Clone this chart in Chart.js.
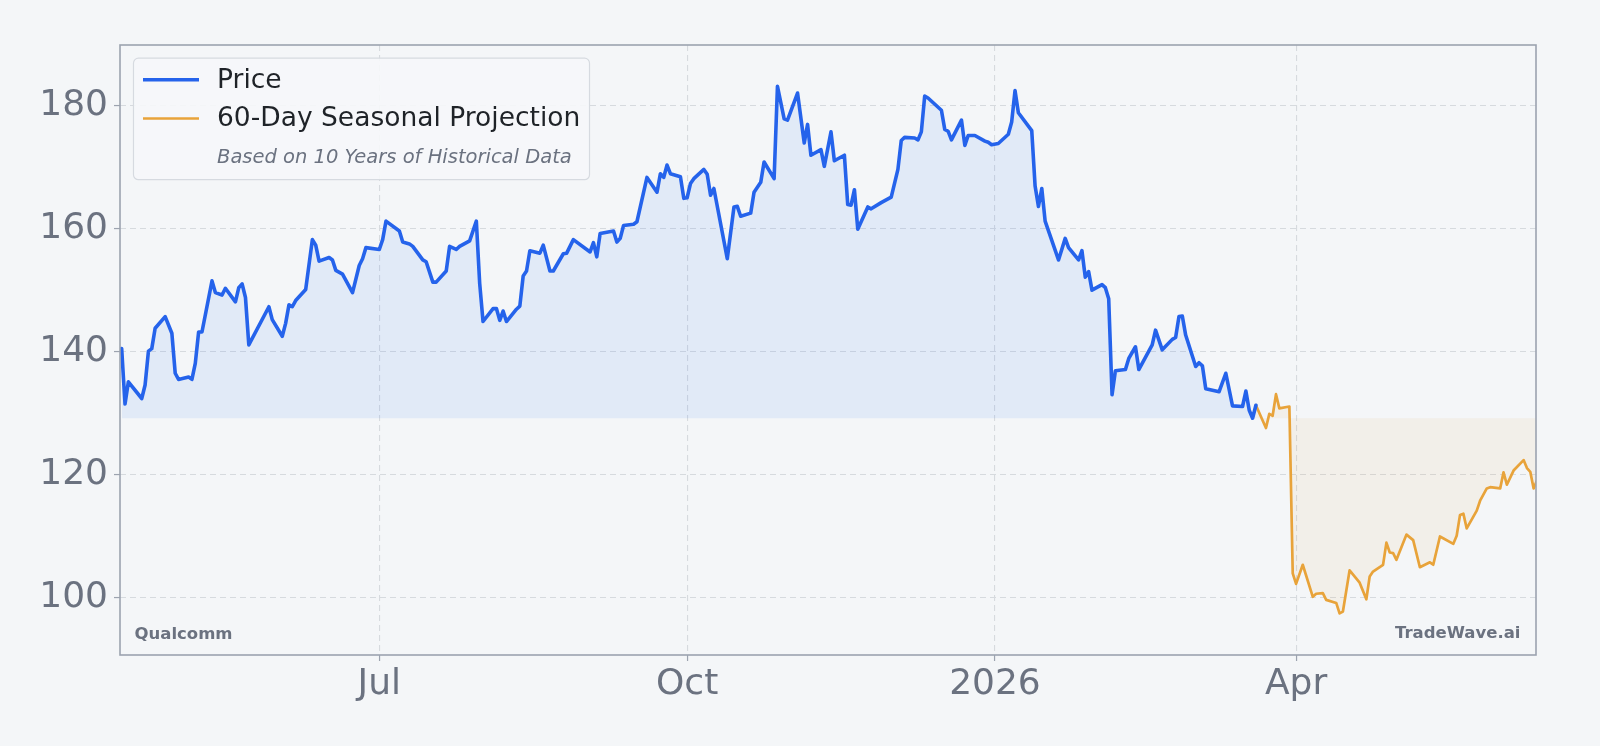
<!DOCTYPE html>
<html lang="en">
<head>
  <meta charset="UTF-8" />
  <title>Qualcomm - 60-Day Seasonal Projection</title>
  <script src="https://cdn.jsdelivr.net/npm/chart.js"></script>
  <style>
    html, body {
      margin: 0;
      padding: 0;
      background: #f4f6f8;
    }
    canvas {
      display: block;
    }
  </style>
</head>
<body>
  <canvas id="priceChart" width="1600" height="746"></canvas>

  <script>
    // daily closes (turning points)
    const priceDates = [
      '2025-04-15','2025-04-16','2025-04-17','2025-04-21','2025-04-22','2025-04-23','2025-04-24','2025-04-25','2025-04-28','2025-04-30',
      '2025-05-01','2025-05-02','2025-05-05','2025-05-06','2025-05-07','2025-05-08','2025-05-09','2025-05-12','2025-05-13','2025-05-15',
      '2025-05-16','2025-05-19','2025-05-20','2025-05-21','2025-05-22','2025-05-23','2025-05-29','2025-05-30','2025-06-02','2025-06-03',
      '2025-06-04','2025-06-05','2025-06-06','2025-06-09','2025-06-11','2025-06-12','2025-06-13','2025-06-16','2025-06-17','2025-06-18',
      '2025-06-20','2025-06-23','2025-06-25','2025-06-26','2025-06-27','2025-07-01','2025-07-02','2025-07-03','2025-07-07','2025-07-08',
      '2025-07-10','2025-07-11','2025-07-14','2025-07-15','2025-07-17','2025-07-18','2025-07-21','2025-07-22','2025-07-24','2025-07-25',
      '2025-07-28','2025-07-30','2025-07-31','2025-08-01','2025-08-04','2025-08-05','2025-08-06','2025-08-07','2025-08-08','2025-08-11',
      '2025-08-12','2025-08-13','2025-08-14','2025-08-15','2025-08-18','2025-08-19','2025-08-21','2025-08-22','2025-08-25','2025-08-26',
      '2025-08-28','2025-09-02','2025-09-03','2025-09-04','2025-09-05','2025-09-09','2025-09-10','2025-09-11','2025-09-12','2025-09-15',
      '2025-09-16','2025-09-19','2025-09-22','2025-09-23','2025-09-24','2025-09-25','2025-09-26','2025-09-29','2025-09-30','2025-10-01',
      '2025-10-02','2025-10-03','2025-10-06','2025-10-07','2025-10-08','2025-10-09','2025-10-13','2025-10-15','2025-10-16','2025-10-17',
      '2025-10-20','2025-10-21','2025-10-23','2025-10-24','2025-10-27','2025-10-28','2025-10-30','2025-10-31','2025-11-03','2025-11-05',
      '2025-11-06','2025-11-07','2025-11-10','2025-11-11','2025-11-13','2025-11-14','2025-11-17','2025-11-18','2025-11-19','2025-11-20',
      '2025-11-21','2025-11-24','2025-11-25','2025-11-28','2025-12-01','2025-12-03','2025-12-04','2025-12-05','2025-12-08','2025-12-09',
      '2025-12-10','2025-12-11','2025-12-12','2025-12-16','2025-12-17','2025-12-18','2025-12-19','2025-12-22','2025-12-23','2025-12-24',
      '2025-12-26','2025-12-29','2025-12-30','2025-12-31','2026-01-02','2026-01-05','2026-01-06','2026-01-07','2026-01-08','2026-01-12',
      '2026-01-13','2026-01-14','2026-01-15','2026-01-16','2026-01-20','2026-01-22','2026-01-23','2026-01-26','2026-01-27','2026-01-28',
      '2026-01-29','2026-01-30','2026-02-02','2026-02-03','2026-02-04','2026-02-05','2026-02-06','2026-02-09','2026-02-10','2026-02-12',
      '2026-02-13','2026-02-17','2026-02-18','2026-02-20','2026-02-23','2026-02-24','2026-02-25','2026-02-26','2026-02-27','2026-03-02',
      '2026-03-03','2026-03-04','2026-03-05','2026-03-09','2026-03-11','2026-03-13','2026-03-16','2026-03-17','2026-03-18','2026-03-19',
      '2026-03-20'
    ];
    const priceValues = [
      140.5, 131.5, 135.1, 132.4, 134.6, 140.1, 140.5, 143.8, 145.7, 143.0,
      136.5, 135.5, 135.9, 135.5, 138.1, 143.2, 143.2, 151.5, 149.6, 149.2,
      150.3, 148.1, 150.4, 151.0, 148.8, 141.1, 147.3, 145.2, 142.5, 144.6,
      147.6, 147.3, 148.3, 150.1, 158.2, 157.3, 154.7, 155.3, 154.9, 153.2,
      152.6, 149.6, 154.0, 155.1, 156.9, 156.6, 158.2, 161.2, 159.6, 157.8,
      157.5, 157.1, 154.9, 154.6, 151.3, 151.3, 153.1, 157.1, 156.6, 157.1,
      158.0, 161.2, 151.1, 144.9, 147.0, 147.0, 145.1, 146.6, 144.9, 146.9,
      147.4, 152.3, 153.1, 156.4, 156.0, 157.3, 153.1, 153.1, 155.9, 156.0,
      158.2, 156.2, 157.7, 155.4, 159.2, 159.6, 157.8, 158.4, 160.5, 160.7,
      161.1, 168.3, 165.9, 168.9, 168.3, 170.3, 168.9, 168.4, 164.9, 165.0,
      167.3, 168.1, 169.6, 168.8, 165.4, 166.5, 155.1, 163.5, 163.6, 162.0,
      162.5, 165.9, 167.5, 170.8, 168.1, 183.1, 177.8, 177.6, 182.0, 173.9,
      176.9, 171.9, 172.8, 170.1, 175.7, 171.0, 171.9, 163.9, 163.8, 166.3,
      159.9, 163.5, 163.2, 164.2, 165.1, 169.6, 174.3, 174.8, 174.7, 174.4,
      175.7, 181.5, 181.2, 179.2, 176.1, 175.8, 174.4, 177.6, 173.5, 175.1,
      175.1, 174.2, 174.0, 173.6, 173.8, 175.3, 177.3, 182.4, 178.8, 175.9,
      166.9, 163.6, 166.5, 161.2, 154.9, 158.4, 156.9, 154.9, 156.4, 152.1,
      153.0, 150.0, 150.9, 150.4, 148.6, 133.0, 136.9, 137.1, 138.9, 140.8,
      137.1, 141.1, 143.5, 140.3, 142.0, 142.3, 145.7, 145.8, 142.7, 137.6,
      138.2, 137.7, 134.0, 133.5, 136.5, 131.2, 131.1, 133.6, 130.5, 129.2,
      131.3
    ];

    // seasonal projection, starts from the last close
    const projDates = [
      '2026-03-20','2026-03-23','2026-03-24','2026-03-25','2026-03-26','2026-03-27','2026-03-30','2026-03-31','2026-04-01','2026-04-03',
      '2026-04-06','2026-04-07','2026-04-09','2026-04-10','2026-04-13','2026-04-14','2026-04-15','2026-04-17','2026-04-20','2026-04-22',
      '2026-04-23','2026-04-24','2026-04-27','2026-04-28','2026-04-29','2026-04-30','2026-05-01','2026-05-04','2026-05-06','2026-05-08',
      '2026-05-11','2026-05-12','2026-05-14','2026-05-18','2026-05-19','2026-05-20','2026-05-21','2026-05-22','2026-05-25','2026-05-26',
      '2026-05-28','2026-05-29','2026-06-01','2026-06-02','2026-06-03','2026-06-05','2026-06-08','2026-06-09','2026-06-10','2026-06-11',
      '2026-06-12'
    ];
    const projValues = [
      131.3, 127.6, 129.9, 129.6, 133.1, 130.8, 131.1, 104.0, 102.3, 105.4,
      100.2, 100.7, 100.8, 99.7, 99.2, 97.5, 97.8, 104.5, 102.5, 99.8,
      103.5, 104.3, 105.4, 109.0, 107.4, 107.3, 106.2, 110.3, 109.4, 105.0,
      105.8, 105.4, 110.0, 108.8, 110.1, 113.5, 113.7, 111.3, 114.2, 115.8,
      117.8, 118.0, 117.8, 120.4, 118.4, 120.7, 122.4, 121.1, 120.5, 117.8,
      119.1
    ];

    const xTickDates = ['2025-07-01', '2025-10-01', '2026-01-01', '2026-04-01'];
    const xTickLabels = ['Jul', 'Oct', '2026', 'Apr'];
    const yTicks = [100, 120, 140, 160, 180];

    const tickerName = 'Qualcomm';
    const brandName = 'TradeWave.ai';
    const legendNote = 'Based on 10 Years of Historical Data';

    const FONT = '"DejaVu Sans", "Liberation Sans", sans-serif';
    const GRAY = '#6b7280';

    // days since 2025-01-01, used as the x value
    const dayOf = s => (Date.parse(s) - Date.parse('2025-01-01T00:00:00Z')) / 86400000;
    const toPoints = (dates, values) => dates.map((d, i) => ({ x: dayOf(d), y: values[i] }));

    const baseline = Math.min(...priceValues);

    // frame round the plot area (all four sides)
    const framePlugin = {
      id: 'frame',
      afterDatasetsDraw(chart) {
        const { ctx, chartArea: a } = chart;
        ctx.save();
        ctx.strokeStyle = '#9ca3af';
        ctx.lineWidth = 1.6;
        ctx.strokeRect(a.left, a.top, a.right - a.left, a.bottom - a.top);
        ctx.restore();
      }
    };

    // watermark texts in the bottom corners
    const watermarkPlugin = {
      id: 'watermark',
      afterDatasetsDraw(chart) {
        const { ctx, chartArea: a } = chart;
        ctx.save();
        ctx.font = 'bold 16.5px ' + FONT;
        ctx.fillStyle = GRAY;
        ctx.textBaseline = 'middle';
        ctx.textAlign = 'left';
        ctx.fillText(tickerName, a.left + 14.5, a.bottom - 20.5);
        ctx.textAlign = 'right';
        ctx.fillText(brandName, a.right - 15.5, a.bottom - 21.5);
        ctx.restore();
      }
    };

    // legend box inside the plot, top left
    const boxLegendPlugin = {
      id: 'boxLegend',
      afterDraw(chart) {
        const { ctx, chartArea: a } = chart;
        const x = a.left + 13.5, y = a.top + 13.2, w = 456, h = 121.5;
        ctx.save();
        ctx.beginPath();
        ctx.roundRect(x, y, w, h, 5);
        ctx.fillStyle = 'rgba(246,247,249,0.9)';
        ctx.fill();
        ctx.strokeStyle = '#d6dae0';
        ctx.lineWidth = 1.2;
        ctx.stroke();

        chart.data.datasets.forEach((ds, i) => {
          const cy = y + 21.5 + i * 38.8;
          ctx.beginPath();
          ctx.moveTo(x + 9.5, cy);
          ctx.lineTo(x + 65.5, cy);
          ctx.strokeStyle = ds.borderColor;
          ctx.lineWidth = ds.borderWidth;
          ctx.stroke();
          ctx.font = '26.5px ' + FONT;
          ctx.fillStyle = '#1f2328';
          ctx.textBaseline = 'middle';
          ctx.fillText(ds.label, x + 83.5, cy + 1);
        });

        ctx.font = 'italic 19.5px ' + FONT;
        ctx.fillStyle = GRAY;
        ctx.textBaseline = 'middle';
        ctx.fillText(legendNote, x + 83.5, y + 100);
        ctx.restore();
      }
    };

    const gridOpts = {
      color: '#d6dade',
      lineWidth: 1.1,
      tickLength: 6,
      tickColor: '#9ca3af',
      tickWidth: 1.2
    };

    const ctx = document.getElementById('priceChart').getContext('2d');
    new Chart(ctx, {
      type: 'line',
      data: {
        datasets: [{
          label: 'Price',
          data: toPoints(priceDates, priceValues),
          borderColor: '#2563eb',
          borderWidth: 3.6,
          borderJoinStyle: 'round',
          borderCapStyle: 'round',
          backgroundColor: 'rgba(59,130,246,0.1)',
          fill: { value: baseline },
          pointRadius: 0,
          tension: 0
        }, {
          label: '60-Day Seasonal Projection',
          data: toPoints(projDates, projValues),
          borderColor: '#e8a33a',
          borderWidth: 2.7,
          borderJoinStyle: 'round',
          borderCapStyle: 'round',
          backgroundColor: 'rgba(232,163,58,0.08)',
          fill: { value: baseline },
          pointRadius: 0,
          tension: 0
        }]
      },
      options: {
        responsive: false,
        animation: false,
        layout: { padding: { top: 45, right: 64, left: 0, bottom: 0 } },
        plugins: {
          legend: { display: false },
          tooltip: { enabled: false }
        },
        scales: {
          x: {
            type: 'linear',
            min: dayOf('2025-04-14T12:00:00Z'),
            max: dayOf('2026-06-11T17:00:00Z'),
            afterBuildTicks: s => { s.ticks = xTickDates.map(d => ({ value: dayOf(d) })); },
            afterFit: s => { s.height = 91; },
            ticks: {
              callback: (v, i) => xTickLabels[i],
              font: { family: FONT, size: 36 },
              color: GRAY,
              padding: 2,
              autoSkip: false,
              maxRotation: 0
            },
            grid: gridOpts,
            border: { display: false, dash: [6, 4] }
          },
          y: {
            min: 90.75,
            max: 189.8,
            afterBuildTicks: s => { s.ticks = yTicks.map(v => ({ value: v })); },
            afterFit: s => { s.width = 120; },
            ticks: {
              font: { family: FONT, size: 36 },
              color: GRAY,
              padding: 6
            },
            grid: gridOpts,
            border: { display: false, dash: [6, 4] }
          }
        }
      },
      plugins: [framePlugin, watermarkPlugin, boxLegendPlugin]
    });
  </script>
</body>
</html>
